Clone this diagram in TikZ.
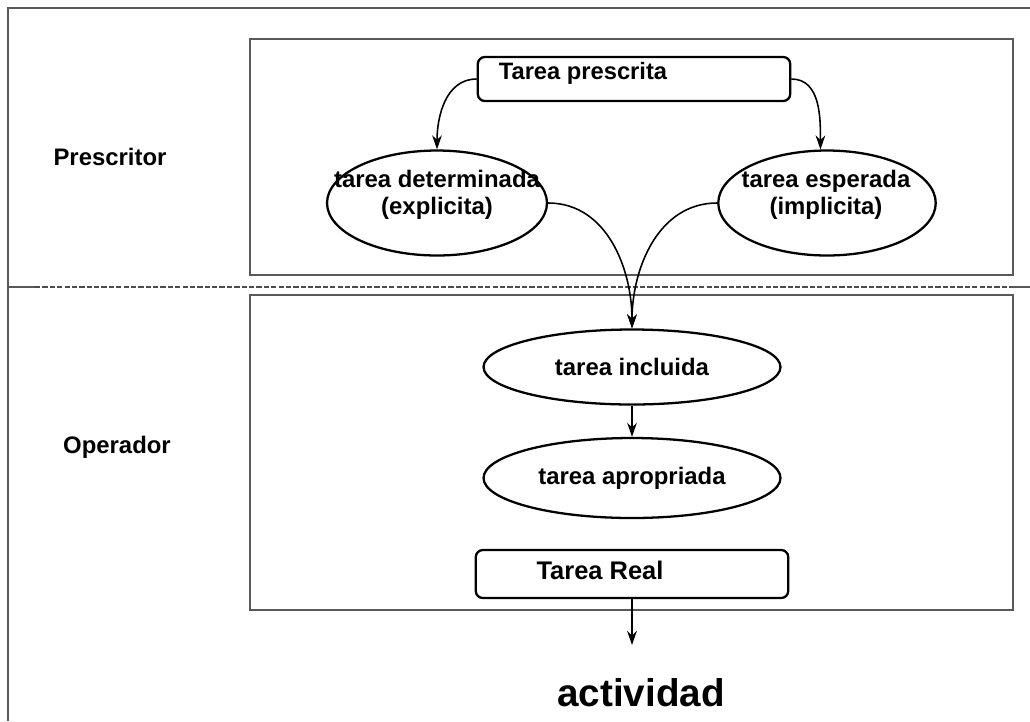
\documentclass[tikz,border=0pt]{standalone}
\usepackage{fontspec}
\setmainfont{Liberation Sans}
\usetikzlibrary{shapes.geometric,arrows.meta}
\begin{document}
\begin{tikzpicture}[x=0.02cm,y=-0.02cm,
		txt/.style={font=\fontsize{13.6}{15.5}\selectfont\bfseries},
		elli/.style={ellipse,draw,line width=1.3pt,inner sep=0pt},
		tbox/.style={draw,rounded corners=4pt,line width=1.3pt,minimum width=6.25cm},
		area/.style={draw=black!65,line width=0.6pt},
		arr/.style={line width=0.9pt,-{Stealth[length=8pt,width=5.5pt]}}]
		\useasboundingbox (0,0) rectangle (1030,721);
		% frame and areas
		\draw[area] (8,721) -- (8,8) -- (1030,8);
		\draw[area] (8,287) -- (35,287);
		\draw[black!70,line width=0.8pt,dash pattern=on 3pt off 1.2pt] (35,287) -- (1011,287);
		\draw[area] (1011,287) -- (1030,287);
		\draw[area] (250,39) rectangle (1013,275);
		\draw[area] (250,295) rectangle (1013,610);
		\node[txt] (prescritor) at (110,157) {Prescritor};
		\node[txt] (operador) at (117,447) {Operador};
		% nodes
		\node[tbox,minimum height=0.88cm] (prescrita) at (634,79) {};
		\node[font=\fontsize{13.5}{15}\selectfont\bfseries] (prescritatxt) at (583,73) {Tarea prescrita};
		\node[elli,minimum width=4.4cm,minimum height=2.1cm] (determinada) at (437,203) {};
		\node[txt,align=center] (determinadatxt) at (437,195) {tarea determinada\\(explicita)};
		\node[elli,minimum width=4.35cm,minimum height=2.1cm] (esperada) at (827,203) {};
		\node[txt,align=center] (esperadatxt) at (826,195) {tarea esperada\\(implicita)};
		\node[elli,minimum width=5.94cm,minimum height=1.5cm,txt] (incluida) at (632,367) {tarea incluida};
		\node[elli,minimum width=5.94cm,minimum height=1.6cm,txt] (apropriada) at (632,478) {tarea apropriada};
		\node[tbox,minimum height=0.96cm] (real) at (632,574) {};
		\node[font=\fontsize{14.5}{16}\selectfont\bfseries] (realtxt) at (600,570) {Tarea Real};
		\node[font=\fontsize{22}{26}\selectfont\bfseries] (actividad) at (641,693) {actividad};
		\coordinate (fin) at (632,645);
		% arrows
		\draw[arr] (prescrita.west) to[out=180,in=90] (determinada.north);
		\draw[arr] (prescrita.east) to[out=0,in=90] (esperada.97);
		\draw[arr] (determinada.east) to[out=0,in=90] (incluida.north);
		\draw[arr] (esperada.west) to[out=180,in=90] (incluida.north);
		\draw[arr] (incluida) -- (apropriada);
		\draw[arr] (real.south) -- (fin);
	\end{tikzpicture}
\end{document}
